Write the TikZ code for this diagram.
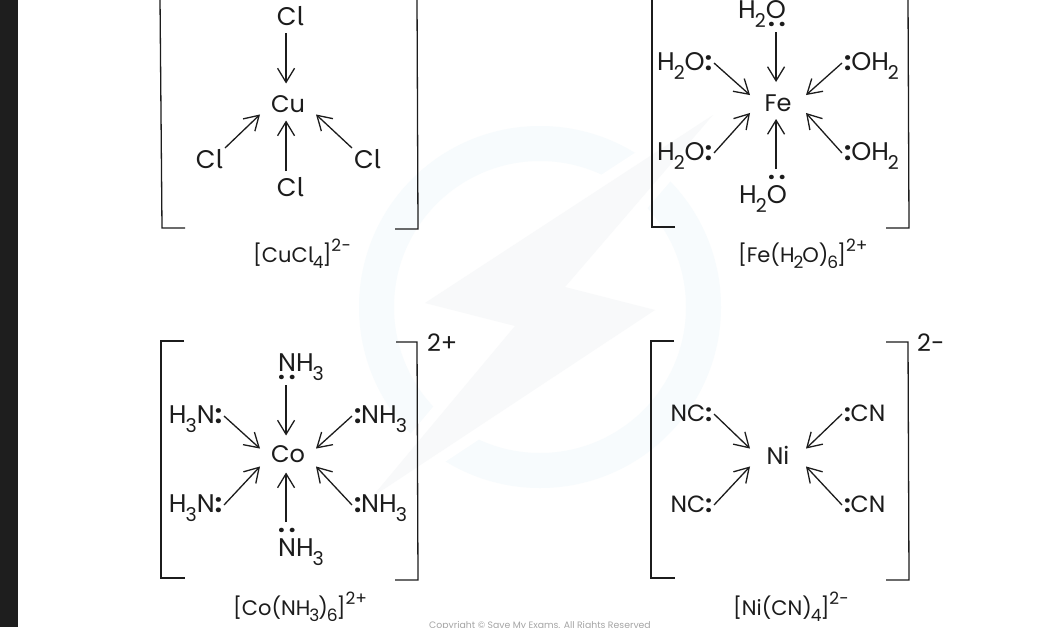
\documentclass[tikz,border=0pt]{standalone}
\usepackage{fontspec}
\setmainfont{Poppins}
\newfontfamily\tailfont{Fira Sans}
\usetikzlibrary{positioning, arrows.meta, calc}
\definecolor{ink}{RGB}{28, 28, 28}
\definecolor{sidebar}{RGB}{30, 30, 30}
\definecolor{wring}{RGB}{247, 251, 253}
\definecolor{wbolt}{RGB}{248, 249, 250}
\definecolor{notice}{RGB}{165, 165, 165}
\tikzstyle{arrow} = [ink, -{Straight Barb[length=14pt, width=17pt, line width=1.3pt]}, line width=1.3pt]
\tikzstyle{bracket} = [ink, line width=1.3pt, line join=miter]
\tikzstyle{ligand} = [text=ink, inner sep=0, inner xsep=2pt, outer sep=0, text height=22pt, text depth=8pt, font=\fontsize{25.5pt}{25.5pt}\selectfont]
\tikzstyle{metal} = [text=ink, inner sep=0, outer sep=0, minimum width=56pt, minimum height=37pt, text height=21pt, text depth=0pt, font=\fontsize{24pt}{24pt}\selectfont]
\tikzstyle{pair} = [text=ink, inner sep=0, outer sep=0, minimum height=16pt, font=\fontsize{24pt}{24pt}\selectfont\bfseries]
\tikzstyle{formula} = [text=ink, inner sep=0, outer sep=0, anchor=base west, font=\fontsize{21pt}{21pt}\selectfont]
\tikzstyle{charge} = [text=ink, inner sep=0, outer sep=0, anchor=base west, font=\fontsize{24pt}{24pt}\selectfont]
\tikzstyle{cyano} = [font=\fontsize{23.5pt}{23.5pt}\selectfont]
\newcommand{\lsub}[1]{\hspace{-1pt}\raisebox{-9pt}{\fontsize{19pt}{19pt}\selectfont #1}}
\newcommand{\fsub}[1]{\hspace{-1pt}\raisebox{-6pt}{\fontsize{17pt}{17pt}\selectfont #1}\hspace{-1pt}}
\newcommand{\fsup}[1]{\raisebox{11pt}{\fontsize{17pt}{17pt}\selectfont #1}}
\newcommand{\lpair}{{\bfseries:}}
\newcommand{\chlor}{C{\tailfont l}}
\newcommand{\tikzligandnode}[1]{\node[ligand, anchor=#1]}
\newcommand{\tikzmetalnode}{\node[metal]}
\newcommand{\tikzpairnode}{\node[pair]}

\begin{document}
\begin{tikzpicture}[x=1pt, y=-1pt]
    \useasboundingbox (0, 0) rectangle (1056, 627);
    \clip (0, 0) rectangle (1056, 627);
    \fill[white] (0, 0) rectangle (1056, 627);
    \fill[sidebar] (0, 0) rectangle (18, 627);

    % watermark
    \fill[wring, even odd rule] (540, 307) circle (181) (540, 307) circle (146);
    \fill[wbolt, draw=white, line width=22pt, line join=miter] (713, 115) -- (425, 303) -- (515, 326) -- (372, 497) -- (655, 310) -- (565, 287) -- cycle;
    \fill[wbolt] (713, 115) -- (425, 303) -- (515, 326) -- (372, 497) -- (655, 310) -- (565, 287) -- cycle;

    % brackets
    \draw[bracket] (185, 228) -- (162, 228) -- (160, -2);
    \draw[bracket] (395, 229) -- (418, 229) -- (417, -2);
    \draw[bracket] (675, 227) -- (652, 227) -- (652, -2);
    \draw[bracket] (886, 228) -- (909, 228) -- (908, -2);
    \draw[bracket] (184, 341) -- (161, 341) -- (161, 578) -- (185, 578);
    \draw[bracket] (396, 342) -- (417, 342) -- (418, 580) -- (395, 580);
    \draw[bracket] (674, 341) -- (651, 341) -- (651, 578) -- (675, 578);
    \draw[bracket] (886, 342) -- (908, 342) -- (909, 580) -- (886, 580);

    % nodes
    \tikzmetalnode at (288, 102)   (cu) {Cu};
    \tikzligandnode{base}       at (290.5, 25)  (cu-n)  {\chlor};
    \tikzligandnode{base}       at (290.5, 196) [text height=25pt] (cu-s) {\chlor};
    \tikzligandnode{base east}  at (225, 168)   [text height=20pt] (cu-sw) {\chlor};
    \tikzligandnode{base west}  at (352, 168)   [text height=20pt] (cu-se) {\chlor};
    \node[formula] at (253, 262) (cu-f) {[Cu\chlor\fsub{4}]\fsup{2−}};

    \tikzmetalnode at (778, 100.5) (fe) {Fe};
    \tikzligandnode{base}       at (762, 18)    (fe-n)  {H\lsub{2}O};
    \tikzligandnode{base}       at (763, 203)   (fe-s)  {H\lsub{2}O};
    \tikzligandnode{base east}  at (714, 70)    (fe-nw) {H\lsub{2}O\lpair};
    \tikzligandnode{base east}  at (714, 160)   (fe-sw) {H\lsub{2}O\lpair};
    \tikzligandnode{base west}  at (842, 70)    (fe-ne) {\lpair OH\lsub{2}};
    \tikzligandnode{base west}  at (842, 160)   (fe-se) {\lpair OH\lsub{2}};
    \tikzpairnode at (777, 24)  (fe-pn) {.\,.};
    \tikzpairnode at (777, 177) (fe-ps) {.\,.};
    \node[formula] at (738, 262) (fe-f) {[Fe(H\fsub{2}O)\fsub{6}]\fsup{2+}};

    \tikzmetalnode at (288, 454) [text height=17pt] (co) {Co};
    \tikzligandnode{base}       at (301, 371)   (co-n)  {NH\lsub{3}};
    \tikzligandnode{base}       at (301, 556)   (co-s)  {NH\lsub{3}};
    \tikzligandnode{base east}  at (224, 423)   (co-nw) {H\lsub{3}N\lpair};
    \tikzligandnode{base east}  at (224, 512)   (co-sw) {H\lsub{3}N\lpair};
    \tikzligandnode{base west}  at (352, 423)   (co-ne) {\lpair NH\lsub{3}};
    \tikzligandnode{base west}  at (352, 512)   (co-se) {\lpair NH\lsub{3}};
    \tikzpairnode at (287, 377) (co-pn) {.\,.};
    \tikzpairnode at (287, 530) (co-ps) {.\,.};
    \node[formula] at (233, 615) (co-f) {[Co(NH\fsub{3})\fsub{6}]\fsup{2+}};
    \node[charge] at (427, 351) (co-c) {2+};

    \tikzmetalnode at (778, 454) (ni) {Ni};
    \tikzligandnode{base east}  at (714, 421)   [cyano] (ni-nw) {NC\lpair};
    \tikzligandnode{base east}  at (714, 512)   [cyano] (ni-sw) {NC\lpair};
    \tikzligandnode{base west}  at (842, 421)   [cyano] (ni-ne) {\lpair CN};
    \tikzligandnode{base west}  at (842, 512)   [cyano] (ni-se) {\lpair CN};
    \node[formula] at (733, 615) (ni-f) {[Ni(CN)\fsub{4}]\fsup{2−}};
    \node[charge] at (917, 351) (ni-c) {2−};

    \node[inner sep=0, text=notice, font=\fontsize{9.3pt}{9.3pt}\selectfont] at (540, 626) (notice) {Copyright © Save My Exams. All Rights Reserved};

    % arrows
    \draw[arrow] (cu.96 |- cu-n.south) -- (cu.96);
    \draw[arrow] (cu.264 |- cu-s.north) -- (cu.264);
    \draw[arrow] (cu-sw.north east) -- (cu.204);
    \draw[arrow] (cu-se.north west) -- (cu.-24);

    \draw[arrow] (fe.96 |- fe-pn.south) -- (fe.96);
    \draw[arrow] (fe.264 |- fe-ps.north) -- (fe.264);
    \draw[arrow] (fe-nw.east) -- (fe.169);
    \draw[arrow] (fe-sw.east) -- (fe.204);
    \draw[arrow] (fe-ne.west) -- (fe.11);
    \draw[arrow] (fe-se.west) -- (fe.-24);

    \draw[arrow] (co.96 |- co-pn.south) -- (co.96);
    \draw[arrow] (co.264 |- co-ps.north) -- (co.264);
    \draw[arrow] (co-nw.east) -- (co.169);
    \draw[arrow] (co-sw.east) -- (co.204);
    \draw[arrow] (co-ne.west) -- (co.11);
    \draw[arrow] (co-se.west) -- (co.-24);

    \draw[arrow] (ni-nw.east) -- (ni.169);
    \draw[arrow] (ni-sw.east) -- (ni.204);
    \draw[arrow] (ni-ne.west) -- (ni.11);
    \draw[arrow] (ni-se.west) -- (ni.-24);
\end{tikzpicture}
\end{document}
